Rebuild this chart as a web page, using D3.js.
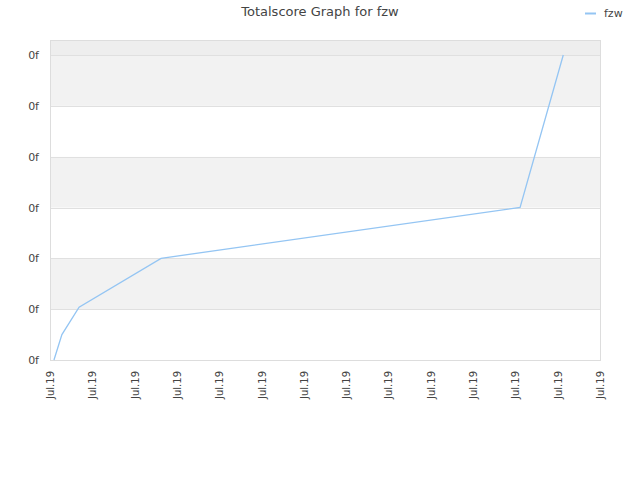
<!DOCTYPE html>
<html><head><meta charset="utf-8">
<script src="https://cdn.jsdelivr.net/npm/d3@7"></script>
<style>body{margin:0;background:#fff;} text{font-family:"DejaVu Sans",sans-serif;}</style>
</head><body>
<svg id="c" width="640" height="480"></svg>
<script>
const title = "Totalscore Graph for fzw";
const seriesName = "fzw";
const dates = ["2019-07-01T02:15","2019-07-01T06:45","2019-07-01T16:30","2019-07-03T15:00","2019-07-12T02:40","2019-07-13T03:10"];
const values = [0, 0.5, 1.04, 2, 3, 6];
const yTicks = [0, 1, 2, 3, 4, 5, 6];
const yTickLabels = ["0f","0f","0f","0f","0f","0f","0f"];
const xDomain = ["2019-07-01T00:00","2019-07-14T00:00"];

const svg = d3.select("#c");
const L = 50, R = 600, T = 40, B = 360;
const parse = d3.isoParse;
const x = d3.scaleTime().domain(xDomain.map(parse)).range([L, R]);
const y = d3.scaleLinear().domain([0, 6]).range([B, 55]);

// background bands
svg.append("rect").attr("x", L).attr("y", T).attr("width", R - L).attr("height", y(6) - T).attr("fill", "#eeeeee");
for (let i = 0; i < yTicks.length - 1; i++) {
  const a = yTicks[i], b = yTicks[i + 1];
  svg.append("rect").attr("x", L).attr("y", y(b)).attr("width", R - L).attr("height", y(a) - y(b))
    .attr("fill", (i % 2 === 0) ? "#ffffff" : "#f2f2f2");
}
// grid lines
svg.append("g").selectAll("line").data(yTicks).join("line")
  .attr("x1", L).attr("x2", R).attr("y1", d => Math.round(y(d)) + 0.5).attr("y2", d => Math.round(y(d)) + 0.5)
  .attr("stroke", "#e0e0e0");
// border
svg.append("rect").attr("x", L + 0.5).attr("y", T + 0.5).attr("width", R - L).attr("height", B - T)
  .attr("fill", "none").attr("stroke", "#dddddd");

// y axis
const yAxis = d3.axisLeft(y).tickValues(yTicks).tickSize(0).tickPadding(11)
  .tickFormat((d, i) => yTickLabels[i]);
const gy = svg.append("g").attr("transform", `translate(${L},0)`).call(yAxis);
gy.select(".domain").remove();
gy.selectAll("text").attr("font-size", 11).attr("fill", "#444").attr("font-family", "DejaVu Sans, sans-serif");

// x axis
const xAxis = d3.axisBottom(x).ticks(d3.timeDay.every(1)).tickSize(0).tickFormat(d3.timeFormat("%b.%y"));
const gx = svg.append("g").attr("transform", `translate(0,${B})`).call(xAxis);
gx.select(".domain").remove();
gx.selectAll("text").attr("font-size", 10).attr("fill", "#444").attr("font-family", "DejaVu Sans, sans-serif")
  .attr("text-anchor", "end").attr("transform", "rotate(-90)").attr("dy", "0.35em").attr("x", -11).attr("y", 0);

// line
const pts = dates.map((d, i) => [parse(d), values[i]]);
svg.append("path").datum(pts)
  .attr("fill", "none").attr("stroke", "#94c5f3").attr("stroke-width", 1.3)
  .attr("d", d3.line().x(d => x(d[0])).y(d => y(d[1])));

// title
svg.append("text").attr("x", 320).attr("y", 16).attr("text-anchor", "middle")
  .attr("font-size", 13).attr("fill", "#444").text(title);
// legend
svg.append("line").attr("x1", 585).attr("x2", 596).attr("y1", 13.5).attr("y2", 13.5)
  .attr("stroke", "#94c5f3").attr("stroke-width", 2);
svg.append("text").attr("x", 604).attr("y", 17).attr("font-size", 11).attr("fill", "#444").text(seriesName);
</script>
</body></html>
